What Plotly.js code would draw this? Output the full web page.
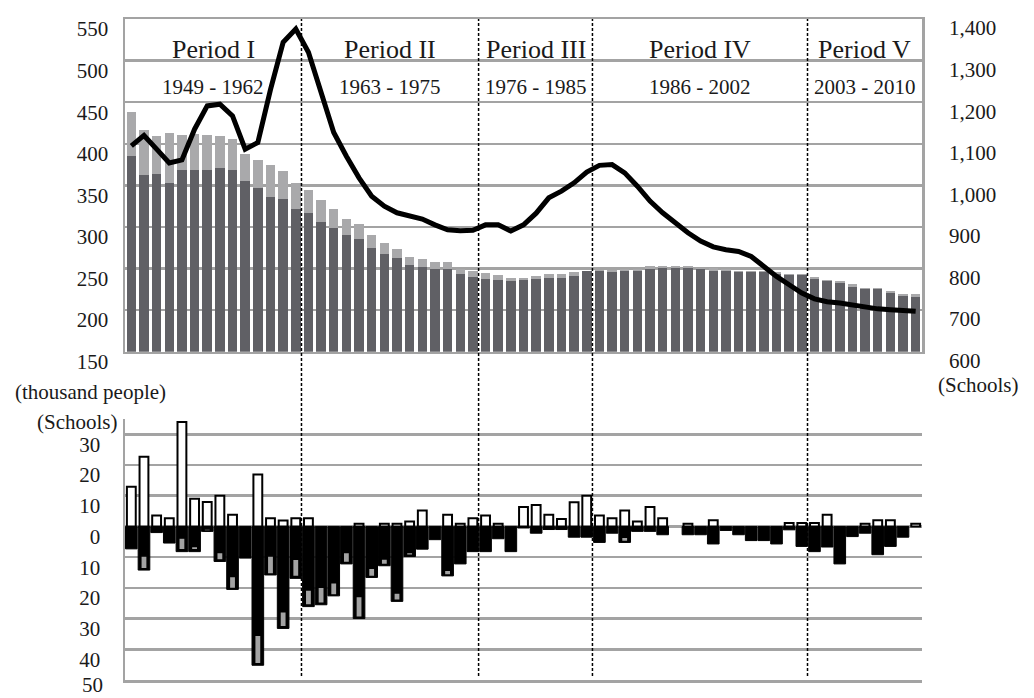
<!DOCTYPE html>
<html><head><meta charset="utf-8">
<script src="https://cdn.plot.ly/plotly-3.0.1.min.js"></script>
<style>html,body{margin:0;padding:0;background:#fff;} #chart{width:1034px;height:698px;}</style>
</head><body><div id="chart"></div>
<script>
// ---------- data ----------
const years = [1949,1950,1951,1952,1953,1954,1955,1956,1957,1958,1959,1960,1961,1962,
  1963,1964,1965,1966,1967,1968,1969,1970,1971,1972,1973,1974,1975,1976,
  1977,1978,1979,1980,1981,1982,1983,1984,1985,
  1986,1987,1988,1989,1990,1991,1992,1993,1994,1995,1996,1997,1998,1999,2000,2001,2002,
  2003,2004,2005,2006,2007,2008,2009,2010,2011];

// students, thousand people (dark part / total height of stacked bar)
const studentsDark = [385,362,364,353,369,369,369,371,369,355,
  347,336,333,322,317,306,299,290,286,275,
  268,263,254,252,250,250,244,239.5,237.5,236,
  235.5,236,237.5,238.5,239,241,246.5,246.5,245.5,246.5,
  246.5,250,250.5,250.5,250.5,249.5,246.5,247.5,245.5,245.5,
  245.5,243.6,242,242,237,234.5,232,228,225.5,225.5,
  221,217,216];
const studentsTotal = [438,416,409,413,410,412,410,409,406,388,
  381,375,367,353,344,332,321,310,304,290,
  281,274,263.6,262,257.5,257.5,249,247,244.5,242,
  239,238.5,241,243,244,245.5,247.5,248.5,248.5,249,
  249,253,253.5,253.5,253.5,251,250.5,250,247,247,
  247,245.5,243.6,243.6,240,236,235.5,231,227,227,
  222.7,219.5,219.5];

// number of schools (right axis)
const schools = [1095,1120,1087,1054,1061,1135,1191,1195,1167,1087,
  1103,1230,1344,1376,1320,1223,1127,1070,1018,974,
  950,934,926,919,905,893,891,892,905,905,
  890,905,933,970,986,1006,1032,1048,1050,1030,
  998,962,934,910,886,866,852,845,841,829,
  805,781,761,741,727,720,717,712,707,703,
  701,699,697];

// lower panel: yearly changes
const changeUp = [12.9,22.7,3.6,2.7,34,9,8,10,3.8,0,
  16.9,2.7,1.9,2.7,2.7,0,0,0,0.9,0,
  0.9,0.9,1.6,5.2,0,3.8,0.9,2.7,3.6,0.9,
  0,6.3,7,3.8,2.4,7.9,10,3.6,2.7,5.2,
  1.6,6.3,2.7,0,0.9,0,2,0,0,0,
  0,0,1.1,1.1,1.1,3.8,0,0,0.9,2,
  2,0,0.9];
const changeDown = [-7.3,-14.2,-2,-5.4,-8.2,-8.2,-1.6,-11.4,-20.5,-10.3,
  -45.2,-15.8,-33.2,-16.9,-26.1,-25.5,-22.6,-12.2,-30,-16.6,
  -12.8,-24.4,-9.8,-7.4,-4.3,-16.1,-12.2,-8.2,-8.2,-4,
  -8.2,-0.5,-2.2,-1,-1,-3.5,-3.5,-5.2,-2.2,-5.2,
  -1.6,-1.6,-2.7,0,-2.7,-2.7,-5.7,-1.3,-2.7,-4.6,
  -4.6,-5.7,-1.1,-6.5,-8.2,-6.7,-12.2,-3.3,-2.2,-9.2,
  -6.5,-3.5,0];
const grayFrom = [null,-9.6,null,null,-3.8,-6.5,-0.8,-8.5,-16.3,null,
  -35.4,-9.6,-27.8,-10.7,-20.7,-19.8,-18.3,-8.5,-22.8,-13.6,
  -10.6,-21.7,-8.5,null,null,-14.3,null,null,null,null,
  null,null,null,null,null,null,null,null,null,-3.5,
  null,null,null,null,null,null,null,null,null,null,
  null,null,null,null,null,null,null,null,null,null,
  null,null,null];
const grayTo = [null,-13.8,null,null,-7.6,-7.6,-1.5,-10.9,-20.2,null,
  -44.7,-15.5,-32.7,-16.3,-25.6,-25.0,-22.3,-11.7,-29.6,-16.3,
  -12.4,-24.0,-9.4,null,null,-15.8,null,null,null,null,
  null,null,null,null,null,null,null,null,null,-4.9,
  null,null,null,null,null,null,null,null,null,null,
  null,null,null,null,null,null,null,null,null,null,
  null,null,null];

const periodNames = ['Period I','Period II','Period III','Period IV','Period V'];
const periodYears = ['1949 - 1962','1963 - 1975','1976 - 1985','1986 - 2002','2003 - 2010'];
const periodLastYear = [1962, 1976, 1985, 2002];

const leftTicks = [150,200,250,300,350,400,450,500,550];
const rightTicks = [600,700,800,900,1000,1100,1200,1300,1400];
const lowerTicks = [30,20,10,0,-10,-20,-30,-40,-50];
const lowerTickText = ['30','20','10','0','10','20','30','40',''];
const lowerBottomLabel = '50';

// ---------- styles ----------
const FONT = 'Liberation Serif, Times New Roman, serif';
const GRID = '#a3a3a3';
const DARK = '#606065';
const LIGHT = '#a9a9ab';

const xMin = years[0] - 0.5, xMax = years[years.length - 1] + 0.5;
const nz = a => a.map(v => (v === 0 ? null : v));

const traces = [
  {type:'bar', x: years, y: studentsDark, width: 0.75, marker:{color: DARK}, xaxis:'x', yaxis:'y', hoverinfo:'skip'},
  {type:'bar', x: years, y: studentsTotal.map((t,i)=>t - studentsDark[i]), base: studentsDark, width: 0.75,
    marker:{color: LIGHT}, xaxis:'x', yaxis:'y', hoverinfo:'skip'},
  {type:'scatter', mode:'lines', x: years, y: schools, line:{color:'#000', width:5}, xaxis:'x', yaxis:'y2', hoverinfo:'skip'},
  {type:'bar', x: years, y: nz(changeDown), width: 0.92, marker:{color:'#000', line:{color:'#000', width:1}},
    xaxis:'x2', yaxis:'y3', hoverinfo:'skip'},
  {type:'bar', x: years, y: grayTo.map((t,i)=> t === null ? null : t - grayFrom[i]), base: grayFrom, width: 0.5,
    marker:{color:'#a3a3a3', line:{color:'#000', width:1.5}}, xaxis:'x2', yaxis:'y3', hoverinfo:'skip'},
  {type:'bar', x: years, y: nz(changeUp), width: 0.7, marker:{color:'#fff', line:{color:'#000', width:2}},
    xaxis:'x2', yaxis:'y3', hoverinfo:'skip'}
];

const tickFont = {family: FONT, size: 21, color:'#1a1a1a'};

const shapes = periodLastYear.map(y => ({
  type:'line', xref:'x', yref:'paper', x0: y + 0.45, x1: y + 0.45, y0: 0.006, y1: 1.0,
  line:{color:'#000', width:1.5, dash:'3px,2px'}, layer:'above'
}));

const bounds = [xMin].concat(periodLastYear.map(y => y + 0.45), [xMax]);
const annotations = [];
periodNames.forEach((p,i) => {
  const cx = (bounds[i] + bounds[i+1]) / 2;
  annotations.push({xref:'x', yref:'y', x: cx, y: 513.3, text: p, showarrow:false,
    font:{family: FONT, size: 26, color:'#1a1a1a'}, xanchor:'center', yanchor:'middle'});
  annotations.push({xref:'x', yref:'y', x: cx, y: 468.3, text: periodYears[i], showarrow:false,
    font:{family: FONT, size: 21, color:'#1a1a1a'}, xanchor:'center', yanchor:'middle'});
});
annotations.push({xref:'paper', yref:'paper', x: -0.0439, y: 0.4362, text:'(thousand people)', showarrow:false,
  font: tickFont, xanchor:'center', yanchor:'middle'});
annotations.push({xref:'paper', yref:'paper', x: -0.0596, y: 0.3903, text:'(Schools)', showarrow:false,
  font: tickFont, xanchor:'center', yanchor:'middle'});
annotations.push({xref:'paper', yref:'paper', x: 1.0703, y: 0.446, text:'(Schools)', showarrow:false,
  font: tickFont, xanchor:'center', yanchor:'middle'});
annotations.push({xref:'paper', yref:'y3', x: 0, y: lowerTicks[lowerTicks.length - 1], text: lowerBottomLabel,
  showarrow:false, font: tickFont, xanchor:'right', yanchor:'middle', xshift:-20, yshift:-5});

const layout = {
  width: 1034, height: 698,
  margin:{l:125, r:112, t:19, b:18},
  paper_bgcolor:'#fff', plot_bgcolor:'rgba(0,0,0,0)',
  showlegend:false, barmode:'overlay', bargap:0,
  font:{family: FONT, color:'#1a1a1a'},
  xaxis:{domain:[0,1], anchor:'y', range:[xMin, xMax], showticklabels:false, ticks:'', showgrid:false, zeroline:false,
    showline:true, mirror:true, linecolor: GRID, linewidth:2.5, fixedrange:true},
  yaxis:{domain:[0.4967,1], anchor:'x', range:[150,550], tickvals: leftTicks, showgrid:true, gridcolor: GRID, gridwidth:2.5,
    zeroline:false, showline:true, mirror:true, linecolor: GRID, linewidth:2.5, ticks:'',
    tickfont: tickFont, ticklabelshift:10, ticklabelstandoff:10},
  yaxis2:{overlaying:'y', side:'right', anchor:'x', range:[600,1400], tickvals: rightTicks, tickformat:',d',
    showgrid:false, zeroline:false, showline:false, ticks:'', tickfont: tickFont, ticklabelshift:9, ticklabelstandoff:26},
  xaxis2:{domain:[0,1], anchor:'y3', range:[xMin, xMax], showticklabels:false, ticks:'', showgrid:false, zeroline:false,
    showline:true, mirror:false, linecolor: GRID, linewidth:2.5, fixedrange:true},
  yaxis3:{domain:[0,0.3949], anchor:'x2', range:[-50,35], tickvals: lowerTicks, ticktext: lowerTickText,
    showgrid:true, gridcolor: GRID, gridwidth:2.5, zeroline:false, showline:true, linecolor: GRID, linewidth:2.5,
    ticks:'', tickfont: tickFont, ticklabelshift:10, ticklabelstandoff:18},
  shapes: shapes,
  annotations: annotations
};

Plotly.newPlot('chart', traces, layout, {displayModeBar:false, staticPlot:true});
</script>
</body></html>
